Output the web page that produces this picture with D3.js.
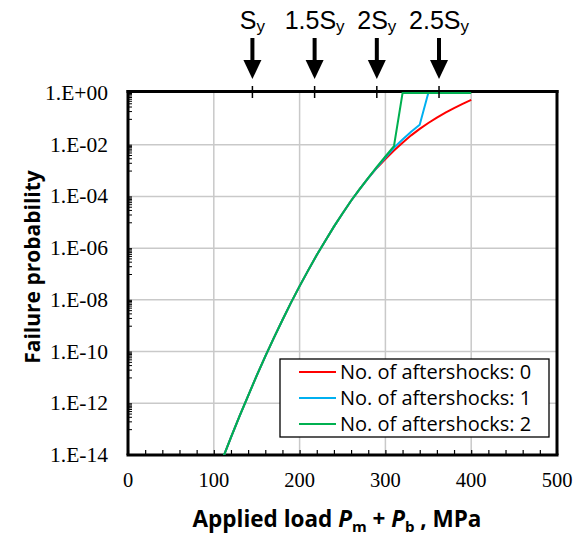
<!DOCTYPE html>
<html>
<head>
<meta charset="utf-8">
<script src="https://cdn.jsdelivr.net/npm/d3@7"></script>
<style>
  body { margin: 0; background: #fff; }
  svg { display: block; }
</style>
</head>
<body>
<svg width="575" height="535"></svg>
<script>
// applied load, MPa
let loads = [110, 120, 130, 140, 150, 160, 170, 180, 190, 200, 210, 220, 230, 240, 250,
  260, 270, 280, 290, 300, 310, 320, 330, 340, 350, 360, 370, 380, 390, 400]

// failure probability, no aftershocks
let p_as0 = [6.8e-15, 4.8e-14, 3.2e-13, 1.95e-12, 1.17e-11, 6.5e-11, 3.4e-10, 1.66e-9, 7.8e-9, 3.4e-8,
  1.38e-7, 5.4e-7, 1.95e-6, 6.8e-6, 2.2e-5, 6.8e-5, 1.9e-4, 5.1e-4, 1.26e-3, 2.8e-3,
  6.0e-3, 1.2e-2, 2.3e-2, 4.1e-2, 6.9e-2, 0.112, 0.174, 0.26, 0.38, 0.54]
// one aftershock (ends at 350)
let p_as1 = [6.8e-15, 4.8e-14, 3.2e-13, 1.95e-12, 1.17e-11, 6.5e-11, 3.4e-10, 1.66e-9, 7.8e-9, 3.4e-8,
  1.38e-7, 5.4e-7, 1.95e-6, 6.8e-6, 2.2e-5, 6.8e-5, 1.9e-4, 5.1e-4, 1.3e-3, 3.2e-3,
  7.6e-3, 1.6e-2, 3.2e-2, 5.9e-2, 1]
// two aftershocks
let p_as2 = [6.8e-15, 4.8e-14, 3.2e-13, 1.95e-12, 1.17e-11, 6.5e-11, 3.4e-10, 1.66e-9, 7.8e-9, 3.4e-8,
  1.38e-7, 5.4e-7, 1.95e-6, 6.8e-6, 2.2e-5, 6.8e-5, 1.9e-4, 5.2e-4, 1.38e-3, 3.5e-3,
  8.9e-3, 1, 1, 1, 1, 1, 1, 1, 1, 1]

let series_names = ["No. of aftershocks: 0", "No. of aftershocks: 1", "No. of aftershocks: 2"]
let series_colors = ["#ff0000", "#00b0f0", "#00b050"]

let x_ticks = [0, 100, 200, 300, 400, 500]
let y_ticks = [1e0, 1e-2, 1e-4, 1e-6, 1e-8, 1e-10, 1e-12, 1e-14]
let y_tick_labels = ["1.E+00", "1.E-02", "1.E-04", "1.E-06", "1.E-08", "1.E-10", "1.E-12", "1.E-14"]

// yield stress marks on the top axis
let sy_values = [145, 217.5, 290, 362.5]
let sy_labels = ["", "1.5", "2", "2.5"]

let plot_left = 128, plot_right = 557, plot_top = 93, plot_bottom = 455

let svg = d3.select("svg")
let x = d3.scaleLinear().domain([0, 500]).range([plot_left, plot_right])
let y = d3.scaleLog().domain([1e-14, 1]).range([plot_bottom, plot_top])

// grid
svg.append("g").selectAll("line")
  .data(x_ticks.slice(1, -1))
  .enter().append("line")
  .attr("x1", d => x(d)).attr("x2", d => x(d))
  .attr("y1", plot_top).attr("y2", plot_bottom)
  .attr("stroke", "#c9c9c9").attr("stroke-width", 1.5)
svg.append("g").selectAll("line")
  .data(y_ticks.slice(1, -1))
  .enter().append("line")
  .attr("x1", plot_left).attr("x2", plot_right)
  .attr("y1", d => y(d)).attr("y2", d => y(d))
  .attr("stroke", "#c9c9c9").attr("stroke-width", 1.5)

// minor ticks
let x_minor = d3.range(0, 501, 20)
let bottom_axis = svg.append("g")
  .attr("transform", "translate(0," + plot_bottom + ")")
  .call(d3.axisBottom(x).tickValues(x_minor).tickSize(-5).tickFormat(""))
bottom_axis.select(".domain").remove()
bottom_axis.selectAll("line").attr("stroke", "#000").attr("stroke-width", 1.2)

let y_minor = []
y_ticks.slice(0, -1).forEach(v => {
  for (let m = 1; m <= 9; m++) y_minor.push(v * m / 10)
})
let left_axis = svg.append("g")
  .attr("transform", "translate(" + plot_left + ",0)")
  .call(d3.axisLeft(y).tickValues(y_minor.concat(y_ticks)).tickSize(-4).tickFormat(""))
left_axis.select(".domain").remove()
left_axis.selectAll("line").attr("stroke", "#000").attr("stroke-width", 1)

// tick labels
svg.append("g").selectAll("text")
  .data(x_ticks)
  .enter().append("text")
  .attr("x", d => x(d)).attr("y", 487)
  .attr("text-anchor", "middle")
  .style("font", "20.5px 'Liberation Serif'")
  .text(d => d)
svg.append("g").selectAll("text")
  .data(y_ticks)
  .enter().append("text")
  .attr("x", 108).attr("y", d => y(d) + 7)
  .attr("text-anchor", "end")
  .style("font", "21.5px 'Liberation Serif'")
  .text((d, i) => y_tick_labels[i])

// frame (top edge nudged up so the p = 1 lines sit just under it)
let frame = svg.append("g").attr("stroke", "#000").attr("stroke-width", 3)
frame.append("line").attr("x1", plot_left - 1.5).attr("x2", plot_right + 1.5)
  .attr("y1", plot_top - 1.5).attr("y2", plot_top - 1.5)
frame.append("line").attr("x1", plot_left - 1.5).attr("x2", plot_right + 1.5)
  .attr("y1", plot_bottom).attr("y2", plot_bottom)
frame.append("line").attr("x1", plot_left).attr("x2", plot_left)
  .attr("y1", plot_top - 3).attr("y2", plot_bottom)
frame.append("line").attr("x1", plot_right).attr("x2", plot_right)
  .attr("y1", plot_top - 3).attr("y2", plot_bottom)

// curves
svg.append("clipPath").attr("id", "plot_clip")
  .append("rect").attr("x", plot_left).attr("y", plot_top - 2)
  .attr("width", plot_right - plot_left - 1.5).attr("height", plot_bottom - plot_top + 2)

let line = d3.line().x(d => x(d[0])).y(d => y(d[1]))
let all_series = [p_as0, p_as1, p_as2]
svg.append("g").attr("clip-path", "url(#plot_clip)")
  .selectAll("path")
  .data(all_series)
  .enter().append("path")
  .attr("d", s => line(s.map((p, i) => [loads[i], p])))
  .attr("fill", "none")
  .attr("stroke", (d, i) => series_colors[i])
  .attr("stroke-width", 2)

// top axis ticks at Sy multiples
svg.append("g").selectAll("line")
  .data(sy_values)
  .enter().append("line")
  .attr("x1", d => x(d)).attr("x2", d => x(d))
  .attr("y1", plot_top - 7).attr("y2", plot_top + 5)
  .attr("stroke", "#000").attr("stroke-width", 1.5)

// arrows
let arrows = svg.append("g").selectAll("g")
  .data(sy_values)
  .enter().append("g")
  .attr("transform", d => "translate(" + x(d) + ",0)")
arrows.append("line")
  .attr("x1", 0).attr("x2", 0).attr("y1", 38).attr("y2", 64)
  .attr("stroke", "#000").attr("stroke-width", 4)
arrows.append("path")
  .attr("d", "M-9,60L9,60L0,79Z")
  .attr("fill", "#000")
let sy_text = arrows.append("text")
  .attr("x", 0).attr("y", 29)
  .attr("text-anchor", "middle")
  .style("font", "25px 'Liberation Sans'")
sy_text.append("tspan").text((d, i) => sy_labels[i] + "S")
sy_text.append("tspan").attr("dy", 3).style("font-size", "17px").text("y")

// legend
let legend = svg.append("g")
legend.append("rect")
  .attr("x", 280).attr("y", 359).attr("width", 269).attr("height", 78)
  .attr("fill", "#fff").attr("stroke", "#000").attr("stroke-width", 1.3)
let rows = legend.selectAll("g.row")
  .data(series_names)
  .enter().append("g")
  .attr("transform", (d, i) => "translate(0," + (372 + i * 26) + ")")
rows.append("line")
  .attr("x1", 299).attr("x2", 336)
  .attr("stroke", (d, i) => series_colors[i]).attr("stroke-width", 2)
rows.append("text")
  .attr("x", 340).attr("y", 7)
  .style("font", "20px 'Open Sans'")
  .text(d => d)

// axis titles
let xt = svg.append("text")
  .attr("x", 337).attr("y", 527)
  .attr("text-anchor", "middle")
  .style("font", "bold 22.5px 'Open Sans'")
xt.append("tspan").text("Applied load ")
xt.append("tspan").style("font-style", "italic").text("P")
xt.append("tspan").attr("dy", 5).style("font-size", "15px").text("m")
xt.append("tspan").attr("dy", -5).text(" + ")
xt.append("tspan").style("font-style", "italic").text("P")
xt.append("tspan").attr("dy", 5).style("font-size", "15px").text("b")
xt.append("tspan").attr("dy", -5).text(" , MPa")

svg.append("text")
  .attr("transform", "translate(40,267) rotate(-90)")
  .attr("text-anchor", "middle")
  .style("font", "bold 21px 'Open Sans'")
  .text("Failure probability")
</script>
</body>
</html>
